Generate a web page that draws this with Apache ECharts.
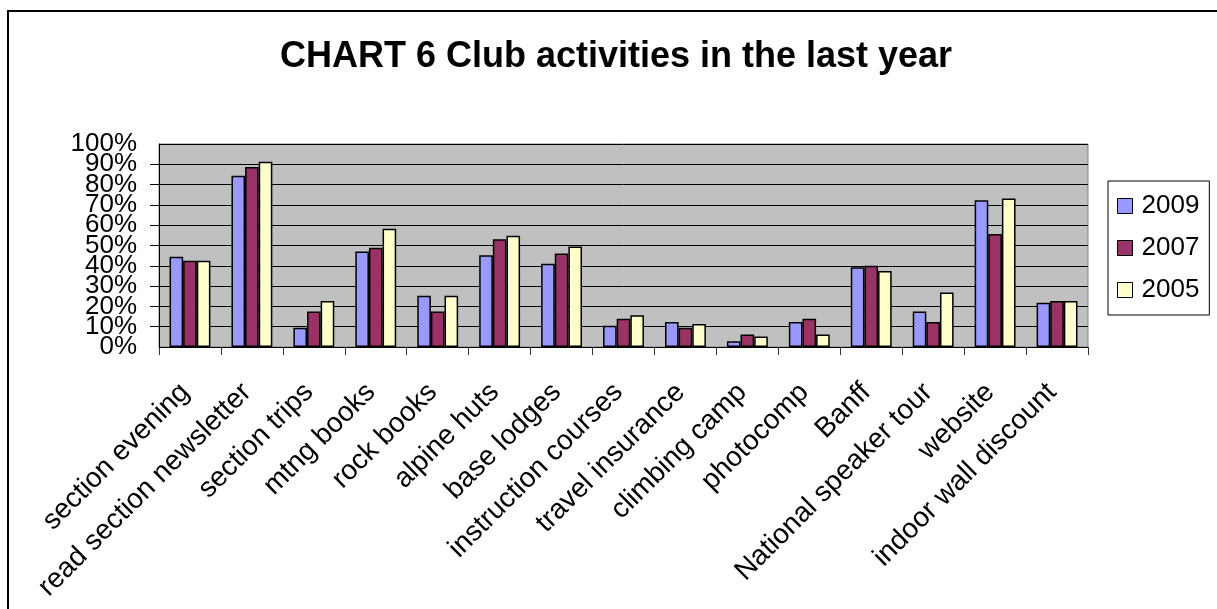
<!DOCTYPE html>
<html>
<head>
<meta charset="utf-8">
<script src="https://cdn.jsdelivr.net/npm/echarts@6/dist/echarts.min.js"></script>
<style>
html,body{margin:0;padding:0;background:#fff;}
#c{width:1217px;height:609px;}
</style>
</head>
<body>
<div id="c"></div>
<script>
const categories = ["section evening","read section newsletter","section trips","mtng books","rock books","alpine huts","base lodges","instruction courses","travel insurance","climbing camp","photocomp","Banff","National speaker tour","website","indoor wall discount"];
const v2009 = [44.4, 84.4, 9.5, 47.0, 25.2, 45.2, 41.0, 10.5, 12.3, 2.8, 12.3, 39.3, 17.5, 72.3, 21.8];
const v2007 = [42.5, 88.7, 17.5, 48.9, 17.5, 53.1, 46.0, 13.9, 9.5, 6.1, 13.9, 40.0, 12.3, 55.7, 22.6];
const v2005 = [42.5, 91.3, 22.6, 58.2, 25.2, 54.8, 49.5, 15.7, 11.3, 5.2, 6.1, 37.5, 26.9, 73.1, 22.6];
const seriesNames = ["2009","2007","2005"];
const titleText = "CHART 6 Club activities in the last year";

const font = "'Liberation Sans', Arial, sans-serif";
const colors = ["#9999FF","#993366","#FFFFCC"];
const chart = echarts.init(document.getElementById('c'), null, {renderer:'canvas'});
const mk = (name, data, i) => ({
  name, type:'bar', data, yAxisIndex:0,
  barGap:'0%', barCategoryGap:'34%',
  itemStyle:{color:colors[i], borderColor:'#000', borderWidth:1.5},
  emphasis:{disabled:true}
});
const yLabel = {formatter:'{value}%', margin:22, fontFamily:font, fontSize:26, color:'#000', hideOverlap:false};
chart.setOption({
  animation:false,
  backgroundColor:'#fff',
  title:{
    text:titleText, left:611, top:34, textAlign:'center',
    textStyle:{fontFamily:font, fontWeight:'bold', fontSize:36, color:'#000'}
  },
  legend:{
    orient:'vertical', left:1108, top:181,
    padding:[12,10,12,9], itemGap:16,
    itemWidth:15, itemHeight:15,
    borderColor:'#000', borderWidth:1,
    icon:'rect',
    textStyle:{fontFamily:font, fontSize:26, color:'#000', padding:[0,0,0,4]},
    data:seriesNames.map(n=>({name:n, itemStyle:{borderColor:'#000', borderWidth:1}}))
  },
  grid:{
    left:159, right:129, top:144, bottom:262,
    show:true, backgroundColor:'#C0C0C0', borderColor:'#808080', borderWidth:1
  },
  xAxis:{
    type:'category', data:categories,
    axisLine:{show:true, lineStyle:{color:'#000', width:1}},
    axisTick:{show:true, length:8, lineStyle:{color:'#333'}},
    axisLabel:{interval:0, rotate:45, margin:36, padding:[0,7,0,0], fontFamily:font, fontSize:28, color:'#000', hideOverlap:false},
    splitLine:{show:false}
  },
  yAxis:[{
    type:'value', min:0, max:100, interval:10, position:'left',
    axisLine:{show:true, lineStyle:{color:'#000', width:1}},
    axisTick:{show:true, length:9, lineStyle:{color:'#000'}},
    axisLabel:Object.assign({showMinLabel:false, showMaxLabel:false}, yLabel),
    splitLine:{show:true, lineStyle:{color:'#000', width:1}}
  },{
    type:'value', min:0, max:100, interval:100, position:'left', offset:0,
    axisLine:{show:false}, axisTick:{show:false}, splitLine:{show:false},
    axisLabel:Object.assign({showMinLabel:true, showMaxLabel:true}, yLabel)
  }],
  graphic:[{
    type:'rect', shape:{x:8, y:11, width:1400, height:800},
    style:{fill:'none', stroke:'#000', lineWidth:2}, silent:true, z:100
  }],
  series:[mk(seriesNames[0], v2009, 0), mk(seriesNames[1], v2007, 1), mk(seriesNames[2], v2005, 2)]
});
</script>
</body>
</html>
